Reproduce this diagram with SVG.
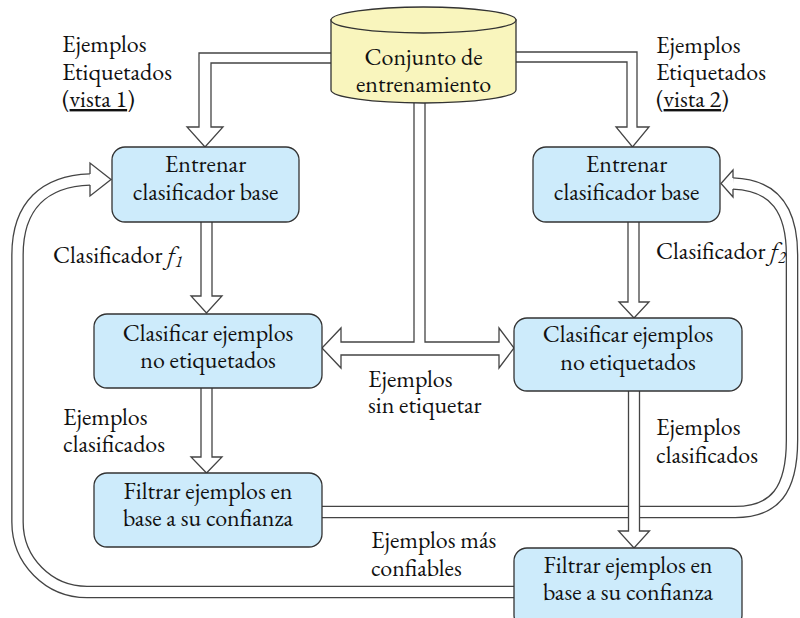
<svg xmlns="http://www.w3.org/2000/svg" width="800" height="618" viewBox="0 0 800 618">
<style>
text{font-family:"EB Garamond","Liberation Serif",serif;font-size:24px;fill:#111}
.c{text-anchor:middle}
.box{fill:#cdebfb;stroke:#333;stroke-width:1.3}
.arr{fill:#fff;stroke:#444;stroke-width:1.3;stroke-linejoin:miter}
.sh-o{fill:none;stroke:#444;stroke-width:12.6}
.sh-i{fill:none;stroke:#fff;stroke-width:10}
.hd{fill:#fff;stroke:none}
.hl{fill:none;stroke:#444;stroke-width:1.3}
.u{text-decoration:underline}
.it{font-style:italic}
.sub{font-style:italic;font-size:16px}
</style>
<rect width="800" height="618" fill="#fff"/>
<g id="connectors">
  <path class="sh-o" d="M514,592 L87,592 A69.5,70 0 0 1 17.5,522 L17.5,255 C17.5,205 45,181 90,179.5"/>
  <path class="sh-i" d="M514,592 L87,592 A69.5,70 0 0 1 17.5,522 L17.5,255 C17.5,205 45,181 90,179.5"/>
  <polygon class="hd" points="90,163 111,179.5 90,196"/>
  <path class="hl" d="M90,174 L90,163 L111,179.5 L90,196 L90,185"/>
  <path class="sh-o" d="M322,512 L735,512 C775,512 792,490 792,440 L792,255 C792,210 775,185 733,183.5"/>
  <path class="sh-i" d="M322,512 L735,512 C775,512 792,490 792,440 L792,255 C792,210 775,185 733,183.5"/>
  <polygon class="hd" points="733,170 721,183.5 733,197"/>
  <path class="hl" d="M733,178 L733,170 L721,183.5 L733,197 L733,189"/>
  <path class="arr" d="M331,53 L199,53 L199,127 L187,127 L205,147 L223,127 L211,127 L211,63 L331,63"/>
  <path class="arr" d="M516,52 L637,52 L637,127 L649,127 L632.5,147 L616,127 L627,127 L627,62 L516,62"/>
  <path class="arr" d="M414,95 L414,342 L341,342 L341,328 L322,348 L341,368 L341,355 L499,355 L499,368 L514,348 L499,328 L499,342 L425,342 L425,95"/>
  <path class="arr" d="M201,222 L201,296 L191,296 L206.5,313 L222,296 L212,296 L212,222"/>
  <path class="arr" d="M201,388 L201,457 L191,457 L206.5,473 L222,457 L212,457 L212,388"/>
  <path class="arr" d="M628,222 L628,302 L619,302 L634,318 L649,302 L639,302 L639,222"/>
  <path class="arr" d="M628.5,391 L628.5,531 L618.5,531 L634,548 L649.5,531 L639.5,531 L639.5,391"/>
</g>
<g id="labels">
  <text x="62" y="52">Ejemplos</text>
  <text x="62" y="80">Etiquetados</text>
  <text x="62" y="107">(<tspan class="u">vista 1</tspan>)</text>
  <text x="656" y="53">Ejemplos</text>
  <text x="656" y="80">Etiquetados</text>
  <text x="656" y="107">(<tspan class="u">vista 2</tspan>)</text>
  <text x="53" y="263">Clasificador <tspan class="it">f</tspan><tspan class="sub" dy="4">1</tspan></text>
  <text x="656" y="259">Clasificador <tspan class="it">f</tspan><tspan class="sub" dy="4">2</tspan></text>
  <text x="368" y="387">Ejemplos</text>
  <text x="368" y="413">sin etiquetar</text>
  <text x="63" y="425">Ejemplos</text>
  <text x="63" y="452">clasificados</text>
  <text x="656" y="435">Ejemplos</text>
  <text x="656" y="463">clasificados</text>
  <text x="371" y="548">Ejemplos más</text>
  <text x="371" y="576">confiables</text>
</g>
<g id="conjunto">
  <path d="M331,20 L331,90 A92.5,13 0 0 0 516,90 L516,20 Z" fill="#f9f5bd" stroke="#333" stroke-width="1.3"/>
  <ellipse cx="423.5" cy="20" rx="92.5" ry="13" fill="#f9f5bd" stroke="#333" stroke-width="1.3"/>
  <text class="c" x="423.5" y="65">Conjunto de</text>
  <text class="c" x="423.5" y="92">entrenamiento</text>
</g>
<g id="entrenar1">
  <rect class="box" x="112" y="147" width="187" height="75" rx="13"/>
  <text class="c" x="205.5" y="172">Entrenar</text>
  <text class="c" x="205.5" y="200">clasificador base</text>
</g>
<g id="entrenar2">
  <rect class="box" x="533" y="147" width="187" height="75" rx="13"/>
  <text class="c" x="626.5" y="172">Entrenar</text>
  <text class="c" x="626.5" y="200">clasificador base</text>
</g>
<g id="clasificar1">
  <rect class="box" x="94" y="314" width="228" height="74" rx="13"/>
  <text class="c" x="208" y="341">Clasificar ejemplos</text>
  <text class="c" x="208" y="368">no etiquetados</text>
</g>
<g id="clasificar2">
  <rect class="box" x="514" y="318" width="228" height="73" rx="13"/>
  <text class="c" x="628" y="342">Clasificar ejemplos</text>
  <text class="c" x="628" y="370">no etiquetados</text>
</g>
<g id="filtrar1">
  <rect class="box" x="94" y="473" width="228" height="74" rx="13"/>
  <text class="c" x="208" y="499">Filtrar ejemplos en</text>
  <text class="c" x="208" y="526">base a su confianza</text>
</g>
<g id="filtrar2">
  <rect class="box" x="514" y="548" width="228" height="80" rx="13"/>
  <text class="c" x="628" y="573">Filtrar ejemplos en</text>
  <text class="c" x="628" y="600">base a su confianza</text>
</g>
</svg>
